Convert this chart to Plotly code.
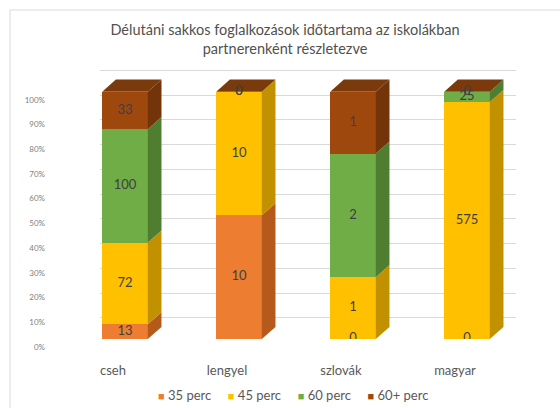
import plotly.graph_objects as go

categories = ["cseh", "lengyel", "szlovák", "magyar"]
series_names = ["35 perc", "45 perc", "60 perc", "60+ perc"]
v35 = [13, 10, 0, 0]
v45 = [72, 10, 1, 575]
v60 = [100, 0, 2, 25]
v60p = [33, 0, 1, 0]
series_values = [v35, v45, v60, v60p]
front_colors = ["#ED7D31", "#FFC000", "#70AD47", "#9E480E"]
side_colors = ["#B65A1C", "#C29100", "#4F7E31", "#73340A"]
top_color = "#7A3A0C"
ytick_vals = [0, 10, 20, 30, 40, 50, 60, 70, 80, 90, 100]
ytick_text = [f"{v}%" for v in ytick_vals]

FONT = "Lato, Carlito, Calibri, sans-serif"
W = 0.40      # bar width (x units)
DX = 0.12     # depth x offset (x units)
DY = 4.9      # depth y offset (percent units)
WALL = 8.6    # back-wall shift of the gridlines (percent units)

xs = list(range(len(categories)))
totals = [sum(s[i] for s in series_values) for i in xs]
pcts = [[s[i] / totals[i] * 100 for i in xs] for s in series_values]

fig = go.Figure()

# back-wall gridlines carrier (empty trace on the wall axes x/y, drawn first)
fig.add_trace(go.Scatter(x=[None], y=[None], xaxis="x", yaxis="y", showlegend=False,
                         hoverinfo="skip"))

# front faces
for name, p, col in zip(series_names, pcts, front_colors):
    fig.add_trace(go.Bar(x=xs, y=p, name=name, marker=dict(color=col, line=dict(width=0)),
                         width=W, hoverinfo="skip", showlegend=False,
                         xaxis="x2", yaxis="y2"))

# side faces (derived from data)
base = [0.0] * len(xs)
label_x, label_y, label_t = [], [], []
for si, (p, col) in enumerate(zip(pcts, side_colors)):
    px, py = [], []
    for i in xs:
        y0 = base[i]
        y1 = base[i] + p[i]
        xr = i + W / 2
        if p[i] > 0:
            px += [xr, xr + DX, xr + DX, xr, xr, None]
            py += [y0, y0 + DY, y1 + DY, y1, y0, None]
        label_x.append(i)
        label_y.append((y0 + y1) / 2)
        label_t.append(str(series_values[si][i]))
        base[i] = y1
    fig.add_trace(go.Scatter(x=px, y=py, mode="lines", fill="toself", fillcolor=col,
                             line=dict(width=0, color=col), showlegend=False, hoverinfo="skip",
                             xaxis="x2", yaxis="y2"))

# top faces (derived from stacked totals)
tx, ty = [], []
for i in xs:
    top = base[i]
    tx += [i - W / 2, i - W / 2 + DX, i + W / 2 + DX, i + W / 2, i - W / 2, None]
    ty += [top, top + DY, top + DY, top, top, None]
fig.add_trace(go.Scatter(x=tx, y=ty, mode="lines", fill="toself", fillcolor=top_color,
                         line=dict(width=0, color=top_color), showlegend=False, hoverinfo="skip",
                         xaxis="x2", yaxis="y2"))

# value labels
fig.add_trace(go.Scatter(x=label_x, y=label_y, mode="text", text=label_t,
                         textfont=dict(family=FONT, size=13, color="#404040"),
                         showlegend=False, hoverinfo="skip", xaxis="x2", yaxis="y2"))

# legend (Excel-style compact legend as text with coloured squares)
legend_text = "&nbsp;&nbsp;&nbsp;&nbsp;&nbsp;".join(
    f"<span style='color:{c};font-size:11px'>■</span> {n}" for n, c in zip(series_names, front_colors))

fig.update_layout(
    width=560, height=408,
    barmode="stack",
    paper_bgcolor="white", plot_bgcolor="rgba(0,0,0,0)",
    margin=dict(l=68, r=36, t=67, b=69, autoexpand=False),
    title=dict(text="Délutáni sakkos foglalkozások időtartama az iskolákban<br>partnerenként részletezve",
               x=0.509, xanchor="center", y=0.915, yanchor="top",
               font=dict(family=FONT, size=14.5, color="#505050")),
    font=dict(family=FONT, color="#595959"),
    showlegend=False,
    # back wall axes (gridlines only)
    xaxis=dict(domain=[(100 - 68) / 456, (516 - 68) / 456], anchor="y", range=[0, 1],
               visible=False),
    yaxis=dict(anchor="x", range=[-WALL, 110 - WALL], tickmode="array",
               tickvals=ytick_vals, showticklabels=False, showgrid=True, gridcolor="#D9D9D9",
               gridwidth=1, zeroline=False, showline=False, ticks=""),
    # front axes (bars, labels)
    xaxis2=dict(domain=[0, 1], anchor="y2", tickmode="array", tickvals=xs, ticktext=categories,
                range=[-0.5, 3.5], showgrid=False, zeroline=False, showline=False, ticks="",
                tickfont=dict(family=FONT, size=13, color="#595959"), ticklabelstandoff=22,
                ticklabelshift=-12),
    yaxis2=dict(overlaying="y", anchor="x2", side="left", range=[0, 110], tickmode="array",
                tickvals=ytick_vals, ticktext=ytick_text, showgrid=False, zeroline=False,
                showline=False, ticks="", tickfont=dict(family=FONT, size=8, color="#808080"),
                ticklabelstandoff=22, ticklabelshift=8),
    annotations=[dict(text=legend_text, xref="paper", yref="paper",
                      x=(293 - 68) / 456, y=-(395 - 339) / 272, xanchor="center", yanchor="middle",
                      showarrow=False, font=dict(family=FONT, size=13, color="#595959"))],
    shapes=[dict(type="rect", xref="paper", yref="paper",
                 x0=-58 / 456, x1=1.2, y0=-0.5, y1=1 + 57 / 272,
                 line=dict(color="#D9D9D9", width=1), fillcolor="rgba(0,0,0,0)", layer="below")],
)

fig.write_html("out.html", config={"displayModeBar": False},
               post_script="document.body.style.margin='0';")
